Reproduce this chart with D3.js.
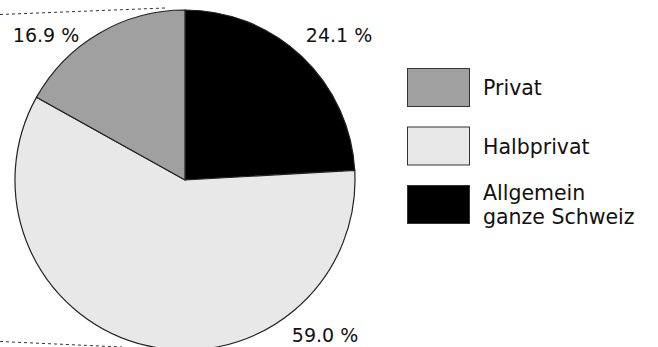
<!DOCTYPE html>
<html>
<head>
<meta charset="utf-8">
<script src="https://cdn.jsdelivr.net/npm/d3@7"></script>
<style>
  html, body { margin: 0; padding: 0; background: #fff; }
  svg { display: block; font-family: "DejaVu Sans", Verdana, sans-serif; }
</style>
</head>
<body>
<svg id="chart" width="658" height="347"></svg>
<script>
// Slices in drawing order (clockwise from 12 o'clock)
const categories = ["Allgemein ganze Schweiz", "Halbprivat", "Privat"];
const values = [24.1, 59.0, 16.9];
const colors = ["#000000", "#e8e8e8", "#a0a0a0"];
const valueLabels = ["24.1 %", "59.0 %", "16.9 %"];

// Legend order and wrapped text lines
const legendOrder = ["Privat", "Halbprivat", "Allgemein ganze Schweiz"];
const legendLines = [["Privat"], ["Halbprivat"], ["Allgemein", "ganze Schweiz"]];

const svg = d3.select("#chart");
const cx = 185, cy = 180, r = 170;

// dashed connector lines coming in from the left
svg.append("line").attr("x1", 0).attr("y1", 14.5).attr("x2", 165).attr("y2", 8)
  .attr("stroke", "#333").attr("stroke-width", 1).attr("stroke-dasharray", "3,3");
svg.append("line").attr("x1", 0).attr("y1", 341.5).attr("x2", 122).attr("y2", 347)
  .attr("stroke", "#333").attr("stroke-width", 1).attr("stroke-dasharray", "3,3");

const pie = d3.pie().sort(null).value(d => d)(values);
const arc = d3.arc().innerRadius(0).outerRadius(r);

const g = svg.append("g").attr("transform", `translate(${cx},${cy})`);
g.selectAll("path").data(pie).join("path")
  .attr("d", arc)
  .attr("fill", (d, i) => colors[i])
  .attr("stroke", "#222")
  .attr("stroke-width", 1.2);

// value labels placed just outside the rim
const labelArc = d3.arc().innerRadius(r * 1.0).outerRadius(r * 1.0);
const labelPos = [
  d => [339 - cx, 42 - cy],
  d => [325 - cx, 342 - cy],
  d => [46 - cx, 42 - cy]
];
g.selectAll("text.val").data(pie).join("text")
  .attr("class", "val")
  .attr("x", (d, i) => labelPos[i](d)[0])
  .attr("y", (d, i) => labelPos[i](d)[1])
  .attr("text-anchor", "middle")
  .attr("font-size", 19)
  .attr("fill", "#111")
  .text((d, i) => valueLabels[i]);

// legend
const legend = svg.append("g").attr("transform", "translate(407,68)");
const item = legend.selectAll("g").data(legendOrder).join("g")
  .attr("transform", (d, i) => `translate(0,${i * 58.5})`);
item.append("rect")
  .attr("x", 0.5).attr("y", 0.5).attr("width", 62).attr("height", 38)
  .attr("fill", d => colors[categories.indexOf(d)])
  .attr("stroke", "#333").attr("stroke-width", 1);
item.each(function(d, i) {
  const lines = legendLines[i];
  const t = d3.select(this).append("text")
    .attr("x", 76).attr("font-size", 20.5).attr("fill", "#111");
  const y0 = lines.length === 1 ? 27 : 15;
  lines.forEach((ln, k) => {
    t.append("tspan").attr("x", 76).attr("y", y0 + k * 23.5).text(ln);
  });
});
</script>
</body>
</html>
